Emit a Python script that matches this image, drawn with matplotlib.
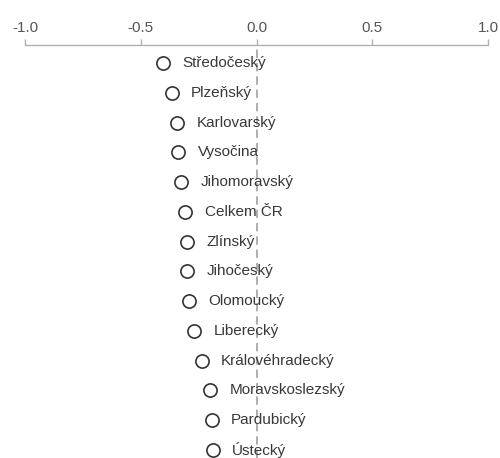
import matplotlib.pyplot as plt

plt.rcParams['font.family'] = ['Liberation Sans', 'DejaVu Sans']

regions = ['Středočeský', 'Plzeňský', 'Karlovarský', 'Vysočina', 'Jihomoravský',
           'Celkem ČR', 'Zlínský', 'Jihočeský', 'Olomoucký', 'Liberecký',
           'Královéhradecký', 'Moravskoslezský', 'Pardubický', 'Ústecký']
values = [-0.404, -0.366, -0.343, -0.339, -0.326, -0.308, -0.300, -0.301,
          -0.291, -0.270, -0.237, -0.201, -0.194, -0.190]
ticks = [-1.0, -0.5, 0.0, 0.5, 1.0]

fig = plt.figure(figsize=(5, 4.58), dpi=100)
ax = fig.add_axes([0.05, 0, 0.926, 0.9017])

pos = list(range(len(regions)))
ax.axvline(0, color='#a0a0a0', lw=1.2, ls=(0, (5, 3)), zorder=1)
ax.plot(values, pos, 'o', ms=9.5, mfc='white', mec='#333333', mew=1.2, ls='none', zorder=3)
for v, p, name in zip(values, pos, regions):
    ax.annotate(name, (v, p), xytext=(14, 0), textcoords='offset points',
                va='center', ha='left', fontsize=11, color='#383838', zorder=4)

ax.set_xlim(-1, 1)
ax.set_ylim(13.27, -0.605)
ax.set_xticks(ticks)
ax.set_xticklabels([f'{t:.1f}' for t in ticks])
ax.xaxis.tick_top()
ax.tick_params(axis='x', colors='#b0b0b0', labelcolor='#555555', labelsize=11,
               length=4, width=1, pad=3)
ax.set_yticks([])
for s in ['left', 'right', 'bottom']:
    ax.spines[s].set_visible(False)
ax.spines['top'].set_color('#b0b0b0')
ax.spines['top'].set_linewidth(1)

fig.savefig('out.png', dpi=100)
